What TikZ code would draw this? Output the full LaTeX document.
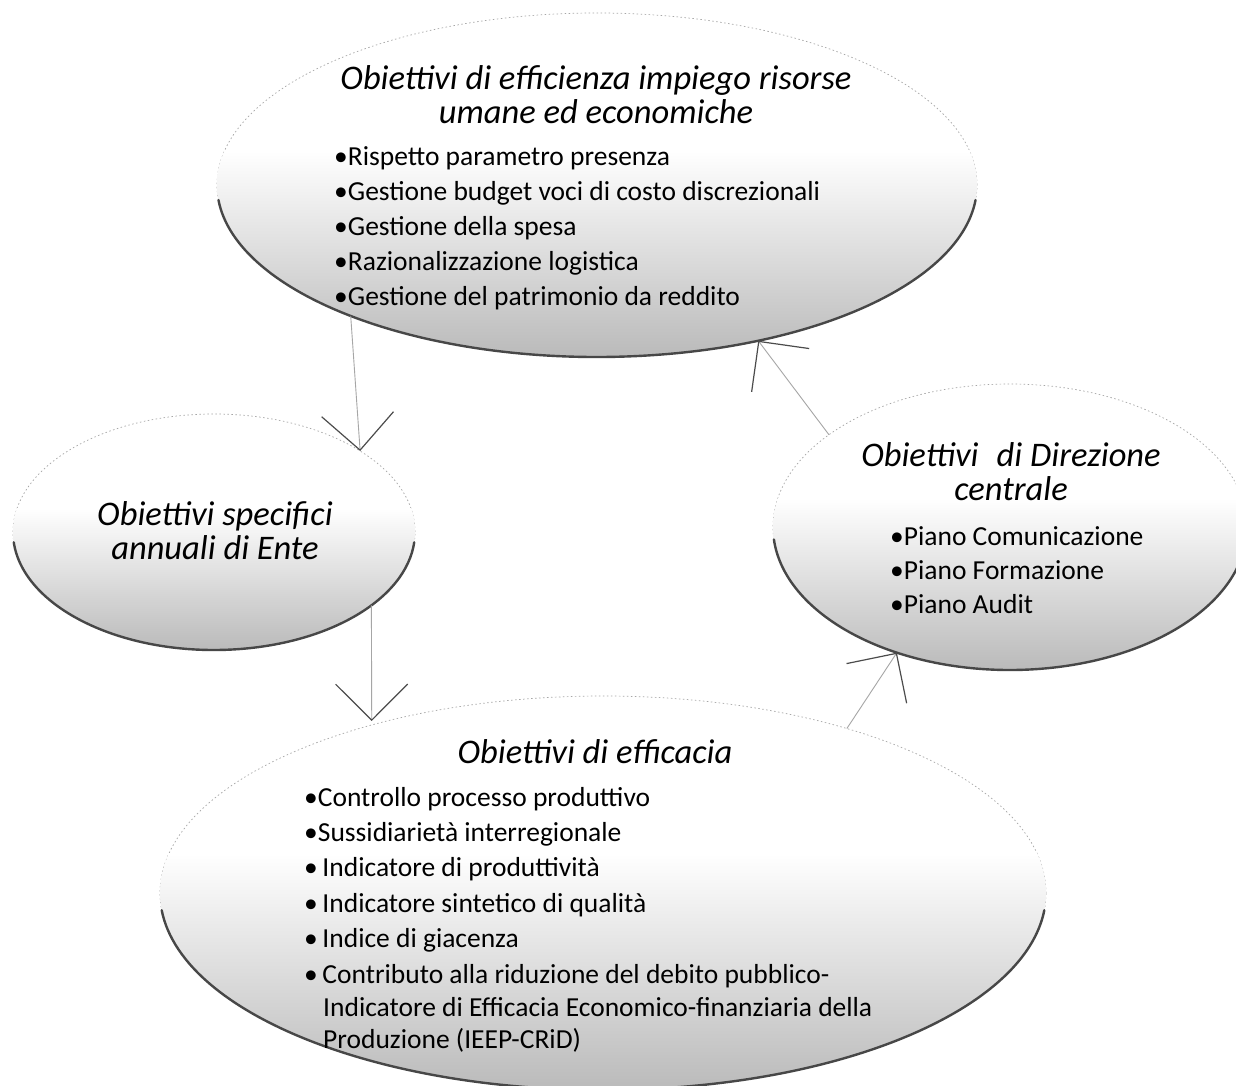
\documentclass[tikz,border=0pt]{standalone}
\usepackage{fontspec}
\setmainfont{Carlito}
\usetikzlibrary{arrows.meta,shapes.geometric}
% one objective bubble: name, centre x, centre y, x radius, y radius
\newcommand\objbubble[5]{%
  \node[bubble, minimum width=2*#4, minimum height=2*#5] (#1) at (#2,#3) {};
  \begin{scope}
    \clip (#1.center) ellipse[x radius=#4, y radius=#5];
    \shade[top color=white, bottom color=black!27]
      (#1.center) ++(-#4,-0.2*#5) rectangle ++(2*#4,1.2*#5);
  \end{scope}
  \draw[rim] (#1.center) ++(175:#4 and #5)
    arc[start angle=175, end angle=5, x radius=#4, y radius=#5];
}
\begin{document}
\begin{tikzpicture}[x=1pt,y=-1pt,
  bubble/.style={ellipse, inner sep=0pt, outer sep=0pt, draw=black!35, line width=0.7pt,
    dash pattern=on 1.5pt off 2.5pt, fill=white},
  rim/.style={draw=black!72, line width=2.4pt, line cap=round},
  headtext/.style={font=\fontsize{34.5}{34}\selectfont\itshape, align=center, inner sep=0pt},
  item/.style={font=\fontsize{27.5}{30}\selectfont, anchor=base west, inner sep=0pt},
  cyc/.style={draw=black!35, line width=0.9pt,
    -{Straight Barb[length=36pt,width=72pt,color=black!70,line width=1.2pt]}},
]
\fill[white] (0,0) rectangle (1236,1086);
\useasboundingbox (0,0) rectangle (1236,1086);

% the four objective bubbles
\objbubble{top}{597}{185}{380}{172}
\objbubble{left}{214}{532}{201}{118}
\objbubble{right}{1010}{527}{237}{143}
\objbubble{bot}{603}{893}{443}{197}

% titles
\node[headtext] (topT)   at (596,95)  {Obiettivi di efficienza impiego risorse\\umane ed economiche};
\node[headtext] (leftT)  at (215,531) {Obiettivi specifici\\annuali di Ente};
\node[headtext] (rightT) at (1011,472) {Obiettivi\hspace{0.3em} di Direzione\\centrale};
\node[headtext] (botT)   at (595,752) {Obiettivi di efficacia};

% bullet lists
\foreach \t [count=\i] in {%
  •Rispetto parametro presenza,
  •Gestione budget voci di costo discrezionali,
  •Gestione della spesa,
  •Razionalizzazione logistica,
  •Gestione del patrimonio da reddito}
  \node[item] (tb\i) at (334,{166+34.8*(\i-1)}) {\t};

\foreach \t [count=\i] in {%
  •Piano Comunicazione,
  •Piano Formazione,
  •Piano Audit}
  \node[item] (rb\i) at (890,{545+34*(\i-1)}) {\t};

\foreach \t [count=\i] in {%
  •Controllo processo produttivo,
  •Sussidiarietà interregionale,
  •\,Indicatore di produttività,
  •\,Indicatore sintetico di qualità,
  •\,Indice di giacenza,
  •\,Contributo alla riduzione del debito pubblico-}
  \node[item] (bb\i) at (304,{806+35.4*(\i-1)}) {\t};
\node[item] (bb7) at (323,1016) {Indicatore di Efficacia Economico-finanziaria della};
\node[item] (bb8) at (323,1048) {Produzione (IEEP-CRiD)};

% cycle connectors
\draw[cyc] (top.208)   -- (left.29);
\draw[cyc, shorten >=4pt] (left.-25) -- (bot.144);
\draw[cyc] (bot.34)    -- (right.228);
\draw[cyc] (right.153) -- (top.-44);
\end{tikzpicture}
\end{document}
